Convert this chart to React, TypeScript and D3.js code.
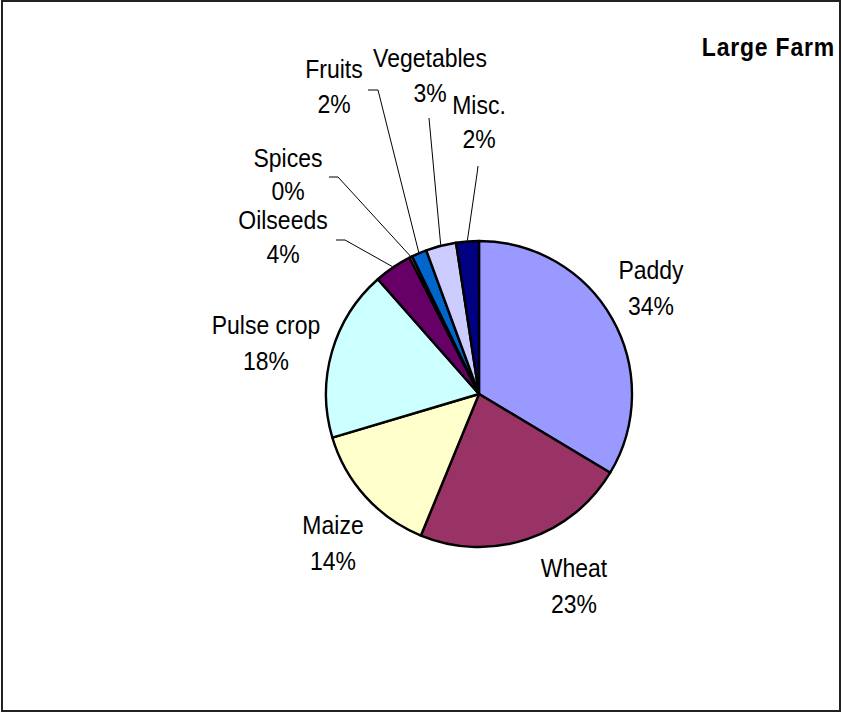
import React from "react";
import * as d3 from "d3";

const categories = ["Paddy", "Wheat", "Maize", "Pulse crop", "Oilseeds", "Spices", "Fruits", "Vegetables", "Misc."];
const shares = [33.6, 22.6, 14.2, 18.1, 4.0, 0.3, 1.6, 3.2, 2.4];
const colors = ["#9999FF", "#993366", "#FFFFCC", "#CCFFFF", "#660066", "#FF8080", "#0066CC", "#CCCCFF", "#000080"];
const title = "Large Farm";

// label layout: center x, baseline of name, baseline of percent, optional leader start points
const labelLayout = [
  { x: 651, y1: 279, y2: 315, leader: null },
  { x: 574, y1: 577, y2: 613, leader: null },
  { x: 333, y1: 534, y2: 570, leader: null },
  { x: 266, y1: 334, y2: 370, leader: null },
  { x: 283, y1: 229, y2: 263, leader: [[336, 240], [345, 240]] },
  { x: 288, y1: 167, y2: 200, leader: [[329, 177], [338, 177]] },
  { x: 334, y1: 78, y2: 113, leader: [[368, 90], [378, 90]] },
  { x: 430, y1: 67, y2: 102, leader: [[429, 118]] },
  { x: 479, y1: 114, y2: 148, leader: [[478, 166], [477, 174]] },
];

export default function App() {
  const W = 842, H = 713;
  const cx = 479, cy = 394, r = 153;
  const total = d3.sum(shares);
  const pie = d3.pie<number>().sort(null).value((d) => d).startAngle(0).endAngle(2 * Math.PI);
  const arcs = pie(shares);
  const arc = d3.arc<d3.PieArcDatum<number>>().innerRadius(0).outerRadius(r);
  const font = "'Liberation Sans', Arial, sans-serif";
  const sy = 1.12;
  return (
    <svg width={W} height={H} style={{ position: "absolute", left: 0, top: 0, background: "#fff" }}>
      <rect x={2} y={1} width={838} height={710} fill="#fff" stroke="#222" strokeWidth={2} />
      <g transform={`translate(${cx},${cy})`}>
        {arcs.map((a, i) => (
          <path key={i} d={arc(a) || ""} fill={colors[i]} stroke="#000" strokeWidth={2.4} strokeLinejoin="round" />
        ))}
      </g>
      {arcs.map((a, i) => {
        const lay = labelLayout[i];
        if (!lay.leader) return null;
        const mid = (a.startAngle + a.endAngle) / 2;
        const ex = cx + Math.sin(mid) * (r + 1);
        const ey = cy - Math.cos(mid) * (r + 1);
        const pts = [...lay.leader, [ex, ey]];
        return (
          <polyline key={"l" + i} points={pts.map((p) => p.join(",")).join(" ")} fill="none" stroke="#000" strokeWidth={1} />
        );
      })}
      {categories.map((c, i) => {
        const lay = labelLayout[i];
        const pct = Math.round((shares[i] / total) * 100);
        return (
          <g key={"t" + i} fontFamily={font} fontSize={23} textAnchor="middle" fill="#000">
            <text transform={`translate(${lay.x},${lay.y1}) scale(1,${sy})`}>{c}</text>
            <text transform={`translate(${lay.x},${lay.y2}) scale(1,${sy})`}>{pct + "%"}</text>
          </g>
        );
      })}
      <text transform={`translate(835,56) scale(1,${sy})`} textAnchor="end" fontFamily={font} fontSize={23} fontWeight="bold" letterSpacing={0.8}>{title}</text>
    </svg>
  );
}
